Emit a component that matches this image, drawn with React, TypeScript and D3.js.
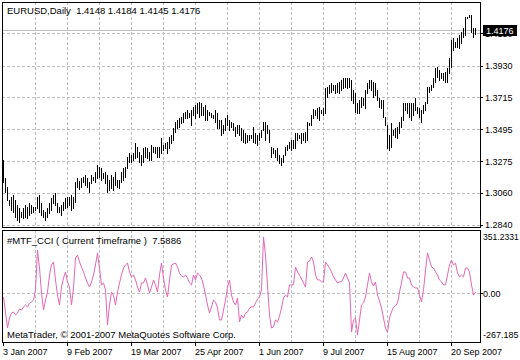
import React, { Component } from "react";
import * as d3 from "d3";

// EURUSD daily bars (bar 0 = 3 Jan 2007)
const highs = [
  1.3285, 1.3161, 1.31, 1.3011, 1.3032, 1.3045, 1.3011, 1.2977, 1.2956, 1.2929,
  1.2956, 1.2977, 1.2963, 1.299, 1.2977, 1.2963, 1.2963, 1.3032, 1.3045, 1.299,
  1.2943, 1.2929, 1.2956, 1.299, 1.3025, 1.3045, 1.3059, 1.299, 1.2963, 1.2977,
  1.2997, 1.3025, 1.3032, 1.3032, 1.3045, 1.3032, 1.3134, 1.3161, 1.3141, 1.3161,
  1.3168, 1.3182, 1.3161, 1.3134, 1.3182, 1.3168, 1.3203, 1.325, 1.3237, 1.323,
  1.3196, 1.3203, 1.3182, 1.3148, 1.3182, 1.3168, 1.3203, 1.3148, 1.3148, 1.3203,
  1.323, 1.3237, 1.3305, 1.3332, 1.3319, 1.3332, 1.3401, 1.3374, 1.3339, 1.3319,
  1.3367, 1.3374, 1.3367, 1.3339, 1.3387, 1.3374, 1.3374, 1.3374, 1.3374, 1.3435,
  1.3387, 1.3401, 1.3408, 1.3442, 1.3456, 1.3503, 1.3545, 1.3558, 1.3572, 1.3579,
  1.3606, 1.3613, 1.3627, 1.3606, 1.3627, 1.3647, 1.3661, 1.3674, 1.3681, 1.3674,
  1.3647, 1.3661, 1.3627, 1.3613, 1.3606, 1.3592, 1.3627, 1.3606, 1.3558, 1.3558,
  1.3524, 1.3572, 1.3592, 1.3558, 1.3545, 1.3538, 1.351, 1.3524, 1.3524, 1.3503,
  1.349, 1.3469, 1.3456, 1.3456, 1.3456, 1.351, 1.3469, 1.3456, 1.3469, 1.349,
  1.3545, 1.3545, 1.3524, 1.349, 1.3374, 1.3367, 1.3353, 1.3367, 1.3319, 1.3298,
  1.3319, 1.3374, 1.3387, 1.3408, 1.3421, 1.3421, 1.3469, 1.3469, 1.3456, 1.3469,
  1.3469, 1.3476, 1.3545, 1.3538, 1.3592, 1.3633, 1.3627, 1.364, 1.3647, 1.3627,
  1.364, 1.3777, 1.3784, 1.3798, 1.3811, 1.3798, 1.3798, 1.3811, 1.3818, 1.3832,
  1.3845, 1.3845, 1.3845, 1.3845, 1.3832, 1.3763, 1.3743, 1.3674, 1.3695, 1.3716,
  1.3709, 1.3763, 1.3811, 1.3832, 1.3832, 1.3818, 1.3811, 1.3763, 1.3709, 1.3695,
  1.3695, 1.3579, 1.3524, 1.3456, 1.3538, 1.349, 1.3503, 1.351, 1.3545, 1.3579,
  1.3674, 1.3674, 1.3674, 1.3674, 1.3674, 1.3674, 1.3709, 1.3647, 1.364, 1.3627,
  1.3661, 1.3681, 1.3784, 1.3784, 1.3798, 1.3845, 1.3914, 1.3921, 1.39, 1.388,
  1.388, 1.3887, 1.3914, 1.3982, 1.4105, 1.4119, 1.4092, 1.4119, 1.414, 1.416,
  1.4187, 1.4263, 1.4263, 1.4276, 1.4276, 1.4187, 1.4184,
];

const lows = [
  1.3134, 1.3066, 1.3011, 1.2977, 1.2943, 1.2929, 1.2895, 1.2874, 1.2861, 1.2895,
  1.2888, 1.2895, 1.2888, 1.2908, 1.2922, 1.2929, 1.2943, 1.2956, 1.2929, 1.2908,
  1.2895, 1.2874, 1.2895, 1.2922, 1.2943, 1.299, 1.2977, 1.2929, 1.2929, 1.2908,
  1.2943, 1.2956, 1.2963, 1.2977, 1.2943, 1.2956, 1.2997, 1.31, 1.3086, 1.31,
  1.3134, 1.3114, 1.31, 1.3066, 1.3127, 1.3148, 1.3134, 1.3161, 1.3168, 1.3148,
  1.3161, 1.3127, 1.3066, 1.3079, 1.3093, 1.3079, 1.3114, 1.31, 1.3093, 1.3134,
  1.3148, 1.3168, 1.323, 1.3271, 1.3271, 1.3285, 1.3298, 1.3305, 1.3271, 1.325,
  1.3271, 1.3305, 1.3298, 1.3285, 1.3285, 1.3339, 1.3332, 1.3305, 1.3305, 1.3332,
  1.3353, 1.3367, 1.3332, 1.3367, 1.3401, 1.3421, 1.3476, 1.3503, 1.351, 1.3538,
  1.3545, 1.3572, 1.3572, 1.3579, 1.3524, 1.3592, 1.3572, 1.3606, 1.3579, 1.3592,
  1.3592, 1.3558, 1.3558, 1.3592, 1.3579, 1.3572, 1.3545, 1.3503, 1.3503, 1.3456,
  1.3469, 1.349, 1.3524, 1.349, 1.351, 1.349, 1.3449, 1.3469, 1.3456, 1.3421,
  1.3408, 1.3401, 1.3408, 1.3421, 1.3435, 1.3408, 1.3401, 1.3387, 1.3421, 1.3442,
  1.349, 1.3421, 1.3469, 1.3408, 1.3305, 1.3332, 1.3305, 1.3285, 1.3264, 1.325,
  1.3271, 1.3319, 1.3353, 1.3367, 1.3353, 1.3367, 1.3367, 1.3421, 1.3435, 1.3401,
  1.3421, 1.3408, 1.3421, 1.3524, 1.3524, 1.3572, 1.3592, 1.3572, 1.3558, 1.3606,
  1.3592, 1.3606, 1.3716, 1.3743, 1.375, 1.3763, 1.3743, 1.375, 1.3743, 1.3763,
  1.3777, 1.3784, 1.3777, 1.3784, 1.3695, 1.3674, 1.3613, 1.3606, 1.3606, 1.3647,
  1.3661, 1.364, 1.3743, 1.3777, 1.3763, 1.3716, 1.3729, 1.3695, 1.3647, 1.364,
  1.3579, 1.3524, 1.3367, 1.3353, 1.3374, 1.3456, 1.3442, 1.3435, 1.3469, 1.351,
  1.3558, 1.3627, 1.3606, 1.3579, 1.3558, 1.3592, 1.3627, 1.3606, 1.3579, 1.3545,
  1.3606, 1.3627, 1.3674, 1.375, 1.3763, 1.3784, 1.3818, 1.3852, 1.3832, 1.3845,
  1.3832, 1.3818, 1.3818, 1.388, 1.3921, 1.4037, 1.4058, 1.4058, 1.4051, 1.4085,
  1.4126, 1.414, 1.4256, 1.4263, 1.416, 1.4126, 1.4145,
];

// #MTF_CCI values, one per bar
const cci = [
  -20, -104, -194, -138, -110, -104, -121, -110, -87, -93,
  -76, -65, -76, -54, -48, -37, 20, 244, 143, 3,
  -93, -37, 8, 104, 160, 177, 76, -9, -65, 36,
  87, 121, 65, 36, -65, 31, 199, 216, 177, 149,
  121, 87, 59, 36, 65, 104, 160, 228, 143, 48,
  59, 20, -177, -65, 8, -9, -65, 8, 59, 104,
  143, 160, 171, 121, 93, 104, 76, 36, 8, 59,
  59, 87, 48, 3, 36, 76, 48, 8, 104, 171,
  87, 20, -20, 76, 160, 166, 171, 149, 115, 98,
  93, 104, 87, 59, 48, 104, 76, 115, 104, 87,
  48, -9, -65, -110, -76, -37, -48, -82, -149, -149,
  -93, -37, 36, 76, -9, -48, -65, -25, -160, -121,
  -138, -110, -104, -82, -76, -76, -54, -31, -20, 20,
  318, 216, 48, -121, -194, -188, -149, -160, -127, -82,
  -25, -9, -20, 48, 48, 48, 149, 121, 104, 81,
  59, 36, 177, 183, 205, 177, 104, 76, 76, 65,
  65, 177, 160, 143, 121, 93, 76, 59, 65, 65,
  87, 115, 87, 59, -217, -149, -138, -233, -149, -65,
  -54, -20, 48, 115, 65, 42, 65, -9, -42, -82,
  -138, -194, -217, -138, -104, -76, -70, -54, 8, 59,
  121, 121, 87, 87, 48, 36, 31, 31, -9, -48,
  20, 132, 228, 188, 149, 143, 121, 104, 76, 65,
  48, 48, 104, 160, 188, 160, 171, 115, 93, 104,
  93, 143, 143, 121, 48, -9, 7.5886,
];

const dateLabels = ["3 Jan 2007", "9 Feb 2007", "19 Mar 2007", "25 Apr 2007", "1 Jun 2007", "9 Jul 2007", "15 Aug 2007", "20 Sep 2007"];
const dateBars = [0, 32, 64, 96, 128, 160, 192, 224];
const gridBars = [16, 32, 48, 64, 80, 96, 112, 128, 144, 160, 176, 192, 208, 224];
const priceTicks = [1.284, 1.306, 1.3275, 1.3495, 1.3715, 1.393, 1.415];
const cciTicks = [351.2331, 0, -267.185];
const lastBar = { open: 1.4148, high: 1.4184, low: 1.4145, close: 1.4176 };
const cciLast = 7.5886;

const FONT = "'Liberation Sans', Arial, sans-serif";
const GRID = "#c0c0c0";

class App extends Component {
  body = React.createRef<HTMLDivElement>();
  width = 520;
  height = 360;
  left = 2;
  right = 480;
  mainTop = 2;
  mainBottom = 228;
  subTop = 230;
  subBottom = 342;

  xScale = d3.scaleLinear().domain([0, highs.length - 1]).range([3, 3 + 2 * (highs.length - 1)]);
  yScale = d3.scaleLinear().domain([1.2826, 1.4358]).range([227, 3]);
  cScale = d3.scaleLinear().domain([-267.185, 351.2331]).range([341, 231]);

  renderGrid(svg) {
    var g = svg.append("g").attr("class", "grid");
    var dash = "3,2";
    g.selectAll("line.vgrid-main")
      .data(gridBars)
      .enter()
      .append("line")
      .attr("x1", d => Math.round(this.xScale(d)) + 0.5)
      .attr("x2", d => Math.round(this.xScale(d)) + 0.5)
      .attr("y1", this.mainTop)
      .attr("y2", this.mainBottom)
      .attr("stroke", GRID)
      .attr("stroke-dasharray", dash);
    g.selectAll("line.vgrid-sub")
      .data(gridBars)
      .enter()
      .append("line")
      .attr("x1", d => Math.round(this.xScale(d)) + 0.5)
      .attr("x2", d => Math.round(this.xScale(d)) + 0.5)
      .attr("y1", this.subTop)
      .attr("y2", this.subBottom)
      .attr("stroke", GRID)
      .attr("stroke-dasharray", dash);
    g.selectAll("line.hgrid")
      .data(priceTicks)
      .enter()
      .append("line")
      .attr("x1", this.left)
      .attr("x2", this.right)
      .attr("y1", d => Math.round(this.yScale(d)) + 0.5)
      .attr("y2", d => Math.round(this.yScale(d)) + 0.5)
      .attr("stroke", GRID)
      .attr("stroke-dasharray", dash);
    g.append("line")
      .attr("x1", this.left)
      .attr("x2", this.right)
      .attr("y1", Math.round(this.cScale(0)) + 0.5)
      .attr("y2", Math.round(this.cScale(0)) + 0.5)
      .attr("stroke", GRID)
      .attr("stroke-dasharray", dash);

    // current price line
    g.append("line")
      .attr("x1", this.left)
      .attr("x2", this.right)
      .attr("y1", Math.round(this.yScale(lastBar.close)) + 0.5)
      .attr("y2", Math.round(this.yScale(lastBar.close)) + 0.5)
      .attr("stroke", "#c0c0c0");
  }

  renderBars(svg) {
    svg
      .append("g")
      .selectAll("line.bar")
      .data(highs)
      .enter()
      .append("line")
      .attr("class", "bar")
      .attr("x1", (d, i) => this.xScale(i) + 0.5)
      .attr("x2", (d, i) => this.xScale(i) + 0.5)
      .attr("y1", d => Math.round(this.yScale(d)))
      .attr("y2", (d, i) => Math.max(Math.round(this.yScale(lows[i])), Math.round(this.yScale(d)) + 1) + 1)
      .attr("stroke", "#000")
      .attr("stroke-width", 1);
  }

  renderCci(svg) {
    var line = d3
      .line<number>()
      .x((d, i) => this.xScale(i) + 0.5)
      .y(d => this.cScale(d));
    svg
      .append("path")
      .attr("d", line(cci))
      .attr("fill", "none")
      .attr("stroke", "#e467b4")
      .attr("stroke-width", 1);
  }

  renderAxes(svg) {
    var priceG = svg.append("g");
    priceG
      .selectAll("text.price")
      .data(priceTicks)
      .enter()
      .append("text")
      .attr("x", 485)
      .attr("y", d => this.yScale(d) + 3.5)
      .attr("font-family", FONT)
      .attr("font-size", 9)
      .text(d => d.toFixed(4));
    priceG
      .selectAll("line.ptick")
      .data(priceTicks)
      .enter()
      .append("line")
      .attr("x1", this.right)
      .attr("x2", this.right + 3)
      .attr("y1", d => Math.round(this.yScale(d)) + 0.5)
      .attr("y2", d => Math.round(this.yScale(d)) + 0.5)
      .attr("stroke", "#000");

    // current price marker
    var cy = Math.round(this.yScale(lastBar.close));
    svg.append("rect").attr("x", 483).attr("y", cy - 5).attr("width", 34).attr("height", 11).attr("fill", "#000");
    svg
      .append("text")
      .attr("x", 486)
      .attr("y", cy + 4)
      .attr("fill", "#fff")
      .attr("font-family", FONT)
      .attr("font-size", 9)
      .text(lastBar.close.toFixed(4));

    // cover the gap between panels
    svg.append("rect").attr("x", this.right + 1).attr("y", this.mainBottom).attr("width", 40).attr("height", 2).attr("fill", "#fff");

    var cciG = svg.append("g");
    cciG
      .selectAll("text.cci")
      .data(cciTicks)
      .enter()
      .append("text")
      .attr("x", 483)
      .attr("y", (d, i) => (i === 0 ? this.cScale(d) + 9 : i === 2 ? this.cScale(d) - 3 : this.cScale(d) + 3.5))
      .attr("font-family", FONT)
      .attr("font-size", (d, i) => (i === 0 ? 8.6 : 9))
      .text((d, i) => (i === 2 ? d.toFixed(3) : i === 1 ? d.toFixed(2) : d.toFixed(4)));
    cciG
      .append("line")
      .attr("x1", this.right)
      .attr("x2", this.right + 3)
      .attr("y1", Math.round(this.cScale(0)) + 0.5)
      .attr("y2", Math.round(this.cScale(0)) + 0.5)
      .attr("stroke", "#000");

    var dateG = svg.append("g");
    dateG
      .selectAll("line.dtick")
      .data(dateBars)
      .enter()
      .append("line")
      .attr("x1", d => Math.round(this.xScale(d)) + 0.5)
      .attr("x2", d => Math.round(this.xScale(d)) + 0.5)
      .attr("y1", this.subBottom)
      .attr("y2", this.subBottom + 4)
      .attr("stroke", "#000");
    dateG
      .selectAll("text.date")
      .data(dateBars)
      .enter()
      .append("text")
      .attr("x", d => this.xScale(d))
      .attr("y", 355)
      .attr("font-family", FONT)
      .attr("font-size", 9)
      .text((d, i) => dateLabels[i]);
  }

  renderFrames(svg) {
    svg
      .append("rect")
      .attr("x", this.left + 0.5)
      .attr("y", this.mainTop + 0.5)
      .attr("width", this.right - this.left)
      .attr("height", this.mainBottom - this.mainTop - 1)
      .attr("fill", "none")
      .attr("stroke", "#000");
    svg
      .append("rect")
      .attr("x", this.left + 0.5)
      .attr("y", this.subTop + 0.5)
      .attr("width", this.right - this.left)
      .attr("height", this.subBottom - this.subTop)
      .attr("fill", "none")
      .attr("stroke", "#000");
  }

  renderTitles(svg) {
    svg
      .append("text")
      .attr("x", 7)
      .attr("y", 14)
      .attr("font-family", FONT)
      .attr("font-size", 9.5)
      .style("white-space", "pre")
      .text(
        "EURUSD,Daily  " +
          [lastBar.open, lastBar.high, lastBar.low, lastBar.close].map(v => v.toFixed(4)).join(" ")
      );
    svg
      .append("text")
      .attr("x", 7)
      .attr("y", 244)
      .attr("font-family", FONT)
      .attr("font-size", 9.5)
      .style("white-space", "pre")
      .text("#MTF_CCI ( Current Timeframe )  " + cciLast.toFixed(4));
    svg
      .append("text")
      .attr("x", 7)
      .attr("y", 338)
      .attr("font-family", FONT)
      .attr("font-size", 9.5)
      .text("MetaTrader, \u00a9 2001-2007 MetaQuotes Software Corp.");
  }

  componentDidMount() {
    var svg = d3
      .select(this.body.current)
      .append("svg")
      .attr("width", this.width)
      .attr("height", this.height)
      .style("display", "block");

    svg.append("rect").attr("width", this.width).attr("height", this.height).attr("fill", "#fff");

    this.renderGrid(svg);
    this.renderBars(svg);
    this.renderCci(svg);
    this.renderFrames(svg);
    this.renderAxes(svg);
    this.renderTitles(svg);
  }

  render() {
    return <div ref={this.body} style={{ position: "absolute", left: 0, top: 0 }} />;
  }
}

export default App;
